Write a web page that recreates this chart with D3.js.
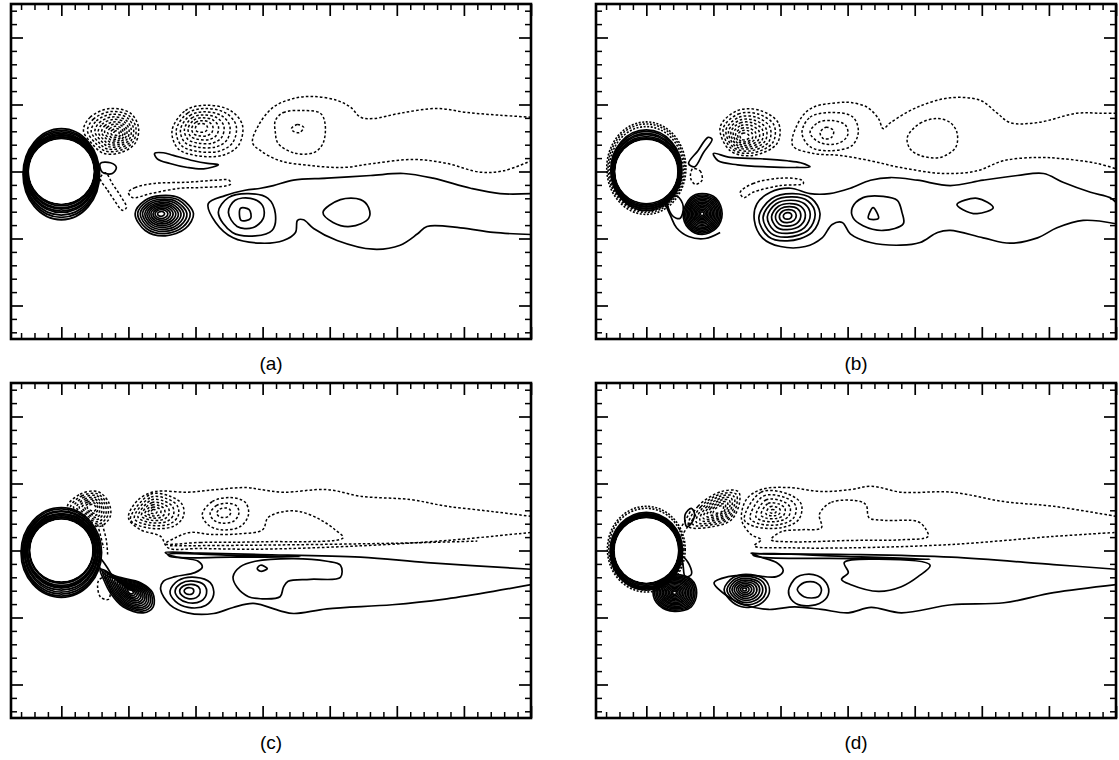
<!DOCTYPE html>
<html><head><meta charset="utf-8">
<script src="https://cdn.jsdelivr.net/npm/d3@7"></script>
<style>body{margin:0;background:#fff}svg{display:block}</style>
</head><body>
<svg id="fig" width="1119" height="760"></svg>
<script>
// Wake vorticity contours behind a cylinder, four instants.
// Coordinates in cylinder diameters, origin at the cylinder centre.
const xDomain = [-0.75, 7];
const yDomain = [-2.5, 2.5];
const panelLabels = ["(a)", "(b)", "(c)", "(d)"];
const xMajor = [0, 1, 2, 3, 4, 5, 6, 7];
const yMajor = [-2, -1, 0, 1, 2];

// ---------- (a) ----------
const aVortexDotted = [
  {outer: [[0.33,0.61],[0.43,0.81],[0.73,0.94],[1.03,0.87],[1.15,0.66],[1.10,0.42],[0.88,0.28],[0.63,0.27],[0.48,0.39]], core: [0.83,0.57], levels: [1,0.88,0.77,0.66,0.56,0.46,0.37,0.28,0.19,0.1]},
  {outer: [[1.65,0.61],[1.85,0.91],[2.15,0.99],[2.52,0.91],[2.70,0.69],[2.64,0.39],[2.40,0.24],[2.00,0.24],[1.74,0.34]], core: [2.07,0.66], levels: [1,0.85,0.7,0.56,0.43,0.3,0.17]}
];
const aVortexSolid = [
  {outer: [[1.10,-0.63],[1.25,-0.43],[1.48,-0.36],[1.77,-0.40],[1.97,-0.63],[1.85,-0.85],[1.55,-0.96],[1.25,-0.88]], core: [1.48,-0.63], levels: [1,0.9,0.8,0.71,0.62,0.54,0.46,0.38,0.3,0.22,0.12]}
];
const aDottedLoops = [
  [[3.19,0.76],[3.31,0.88],[3.61,0.91],[3.86,0.87],[3.93,0.72],[3.90,0.42],[3.76,0.28],[3.46,0.28],[3.23,0.42],[3.19,0.58]],
  [[3.43,0.64],[3.52,0.70],[3.61,0.66],[3.55,0.58],[3.46,0.60]],
  [[1.00,-0.31],[1.10,-0.24],[1.37,-0.18],[1.88,-0.16],[2.30,-0.13],[2.50,-0.13],[2.52,-0.19],[2.07,-0.24],[1.77,-0.25],[1.33,-0.33],[1.06,-0.39]],
  [[0.58,-0.10],[0.69,-0.28],[0.79,-0.43],[0.91,-0.58],[0.97,-0.54],[0.88,-0.36],[0.76,-0.18],[0.66,-0.02]]
];
const aDottedOpen = [
  [[7.0,0.81],[6.54,0.84],[6.05,0.88],[5.60,0.94],[5.05,0.87],[4.65,0.79],[4.46,0.81],[4.31,0.96],[4.11,1.06],[3.76,1.12],[3.46,1.09],[3.16,0.96],[2.94,0.69],[2.85,0.43],[2.97,0.31],[3.26,0.16],[3.71,0.09],[4.20,0.06],[4.65,0.12],[5.25,0.18],[5.75,0.12],[6.24,-0.01],[6.59,0.01],[7.0,0.16]]
];
const aSolidLoops = [
  [[0.58,0.12],[0.73,0.13],[0.82,0.06],[0.76,-0.03],[0.61,-0.01]],
  [[1.39,0.27],[1.52,0.28],[1.67,0.24],[1.97,0.16],[2.18,0.12],[2.34,0.10],[2.12,0.04],[1.88,0.06],[1.62,0.12],[1.43,0.19]],
  [[2.67,-0.55],[2.80,-0.57],[2.82,-0.70],[2.68,-0.73]],
  [[2.49,-0.61],[2.59,-0.43],[2.82,-0.40],[3.00,-0.51],[3.01,-0.70],[2.85,-0.84],[2.62,-0.82]],
  [[2.34,-0.61],[2.49,-0.39],[2.79,-0.33],[3.08,-0.40],[3.19,-0.63],[3.14,-0.88],[2.89,-0.96],[2.55,-0.91]],
  [[3.90,-0.61],[4.16,-0.42],[4.46,-0.42],[4.58,-0.54],[4.58,-0.70],[4.31,-0.82],[4.05,-0.76]]
];
const aSolidOpen = [
  [[7.0,-0.33],[6.54,-0.33],[6.10,-0.25],[5.54,-0.10],[5.10,-0.03],[4.61,-0.06],[3.96,-0.10],[3.46,-0.13],[3.16,-0.21],[2.97,-0.25],[2.74,-0.28],[2.44,-0.36],[2.19,-0.48],[2.30,-0.76],[2.56,-0.99],[2.97,-1.07],[3.31,-1.03],[3.49,-0.91],[3.52,-0.73],[3.61,-0.72],[3.76,-0.85],[4.11,-1.03],[4.65,-1.16],[5.05,-1.10],[5.31,-0.93],[5.45,-0.82],[5.95,-0.84],[6.44,-0.91],[7.0,-0.94]]
];
const aCylSolid = {rx: [0.49,0.5,0.51,0.52,0.53,0.54,0.55,0.56,0.57], ry: [0.49,0.51,0.53,0.55,0.57,0.59,0.62,0.65,0.68], dy: [0,0,-0.01,-0.01,-0.02,-0.02,-0.03,-0.035,-0.04]};
const aCylDotted = {rx: [], ry: [], dy: []};

// ---------- (b) ----------
const bVortexDotted = [
  {outer: [[1.10,0.66],[1.36,0.91],[1.70,0.91],[1.97,0.72],[1.95,0.42],[1.59,0.24],[1.25,0.31]], core: [1.45,0.51], levels: [1,0.87,0.75,0.64,0.54,0.44,0.34,0.25,0.15]}
];
const bVortexSolid = [
  {outer: [[0.55,-0.63],[0.66,-0.39],[0.83,-0.33],[1.04,-0.40],[1.13,-0.63],[1.04,-0.85],[0.83,-0.94],[0.63,-0.85]], core: [0.83,-0.63], levels: [1,0.93,0.86,0.79,0.72,0.65,0.58,0.51,0.44,0.37,0.3,0.23,0.16,0.09]},
  {outer: [[1.65,-0.69],[1.85,-0.39],[2.19,-0.31],[2.49,-0.39],[2.62,-0.63],[2.49,-0.93],[2.10,-1.06],[1.80,-0.99]], core: [2.10,-0.66], levels: [0.94,0.8,0.66,0.52,0.39,0.26,0.13]}
];
const bDottedLoops = [
  [[0.69,0.04],[0.80,0.01],[0.83,-0.13],[0.73,-0.19],[0.66,-0.10]],
  [[1.40,-0.31],[1.59,-0.18],[2.00,-0.10],[2.32,-0.13],[2.34,-0.18],[2.00,-0.21],[1.59,-0.31],[1.45,-0.39]],
  [[2.32,0.58],[2.44,0.81],[2.74,0.88],[3.07,0.82],[3.16,0.61],[3.07,0.39],[2.74,0.31],[2.44,0.37]],
  [[2.44,0.58],[2.56,0.73],[2.77,0.76],[2.97,0.69],[3.00,0.54],[2.86,0.42],[2.59,0.43]],
  [[2.59,0.58],[2.68,0.66],[2.79,0.61],[2.76,0.51],[2.64,0.49]],
  [[3.89,0.51],[4.08,0.72],[4.34,0.79],[4.53,0.73],[4.63,0.58],[4.61,0.36],[4.38,0.21],[4.08,0.24],[3.93,0.34]]
];
const bDottedOpen = [
  [[7.0,0.87],[6.77,0.87],[6.42,0.87],[5.83,0.73],[5.42,0.73],[5.23,0.87],[4.98,1.06],[4.53,1.10],[4.04,0.96],[3.64,0.73],[3.53,0.64],[3.46,0.79],[3.29,0.96],[3.04,1.03],[2.89,1.03],[2.49,0.96],[2.30,0.79],[2.18,0.39],[2.49,0.27],[2.89,0.24],[3.34,0.16],[3.79,0.06],[4.43,-0.03],[4.93,0.01],[5.32,0.16],[5.83,0.21],[6.21,0.19],[6.72,0.12],[7.0,0.04]]
];
const bSolidLoops = [
  [[0.63,0.12],[0.77,0.31],[0.92,0.51],[0.98,0.48],[0.85,0.28],[0.72,0.07]],
  [[1.00,0.27],[1.25,0.21],[1.70,0.19],[2.10,0.16],[2.30,0.13],[2.44,0.07],[2.22,0.06],[1.80,0.07],[1.36,0.10],[1.07,0.16]],
  [[3.07,-0.54],[3.23,-0.39],[3.53,-0.37],[3.74,-0.43],[3.81,-0.61],[3.83,-0.78],[3.53,-0.88],[3.23,-0.81],[3.08,-0.69]],
  [[3.38,-0.54],[3.31,-0.70],[3.46,-0.70]],
  [[4.63,-0.49],[4.93,-0.40],[5.17,-0.54],[4.93,-0.63],[4.72,-0.57]],
  [[0.31,-0.40],[0.46,-0.37],[0.55,-0.52],[0.50,-0.70],[0.39,-0.66]]
];
const bSolidOpen = [
  [[0.28,-0.48],[0.36,-0.66],[0.45,-0.84],[0.63,-0.97],[0.88,-1.00],[1.10,-0.91]],
  [[7.0,-0.46],[6.91,-0.39],[6.62,-0.31],[6.21,-0.16],[5.92,-0.03],[5.53,-0.06],[5.02,-0.13],[4.53,-0.21],[4.04,-0.13],[3.64,-0.09],[3.34,-0.13],[3.04,-0.25],[2.73,-0.33],[2.44,-0.33],[2.15,-0.25],[1.85,-0.31],[1.65,-0.48],[1.61,-0.73],[1.73,-0.99],[2.00,-1.12],[2.37,-1.12],[2.62,-0.99],[2.77,-0.79],[2.92,-0.76],[3.04,-0.93],[3.34,-1.06],[3.79,-1.10],[4.08,-1.06],[4.34,-0.91],[4.53,-0.88],[5.02,-0.99],[5.42,-1.07],[5.83,-0.99],[6.12,-0.84],[6.51,-0.73],[7.0,-0.78]]
];
const bCylSolid = {rx: [0.47,0.48,0.49,0.5,0.51,0.52,0.53], ry: [0.48,0.5,0.52,0.54,0.56,0.58,0.6], dy: [0,0,0,0.01,0.01,0.02,0.02]};
const bCylDotted = {rx: [0.55,0.57,0.59], ry: [0.63,0.66,0.69], dy: [0.04,0.05,0.05]};

// ---------- (c) ----------
const cVortexDotted = [
  {outer: [[0.09,0.66],[0.28,0.84],[0.54,0.88],[0.70,0.73],[0.73,0.51],[0.58,0.36],[0.36,0.43],[0.16,0.54]], core: [0.46,0.64], levels: [1,0.87,0.75,0.63,0.52,0.41,0.3,0.2]},
  {outer: [[1.03,0.46],[1.33,0.84],[1.62,0.81],[1.80,0.69],[1.82,0.51],[1.67,0.36],[1.28,0.34]], core: [1.37,0.58], levels: [1,0.83,0.67,0.52,0.38,0.25,0.12]},
  {outer: [[2.10,0.54],[2.25,0.73],[2.52,0.79],[2.74,0.72],[2.79,0.54],[2.67,0.36],[2.37,0.31],[2.18,0.39]], core: [2.41,0.57], levels: [1,0.62,0.3]}
];
const cVortexSolid = [
  {outer: [[0.58,-0.28],[0.83,-0.39],[1.18,-0.48],[1.36,-0.63],[1.37,-0.84],[1.22,-0.93],[0.92,-0.84],[0.73,-0.63],[0.63,-0.43]], core: [1.03,-0.61], levels: [1,0.92,0.84,0.76,0.68,0.6,0.52,0.44,0.36,0.28,0.2,0.12]},
  {outer: [[1.62,-0.61],[1.74,-0.45],[2.00,-0.40],[2.22,-0.48],[2.27,-0.66],[2.15,-0.82],[1.89,-0.85],[1.70,-0.76]], core: [1.89,-0.60], levels: [1,0.72,0.47,0.22]}
];
const cDottedLoops = [
  [[0.55,-0.46],[0.64,-0.40],[0.73,-0.58],[0.70,-0.73],[0.58,-0.69]],
  [[1.55,0.10],[2.07,0.12],[2.97,0.13],[4.20,0.19],[4.08,0.31],[3.86,0.46],[3.56,0.58],[3.31,0.58],[3.08,0.49],[3.00,0.31],[2.67,0.25],[2.22,0.24],[1.92,0.27],[1.70,0.19]]
];
const cDottedOpen = [
  [[7.0,0.51],[6.44,0.58],[5.75,0.66],[5.20,0.76],[4.46,0.81],[3.96,0.91],[3.31,0.87],[2.97,0.91],[2.77,0.94],[2.32,0.91],[1.88,0.87],[1.40,0.88],[1.15,0.76],[1.00,0.49],[1.18,0.31],[1.48,0.21],[1.59,0.04],[2.07,0.03],[2.97,0.02],[4.46,0.07],[5.75,0.15],[7.0,0.27]],
  [[1.62,0.07],[2.97,0.08],[5.05,0.11],[6.2,0.14]],
  [[0.54,0.39],[0.58,0.24],[0.63,0.04]],
  [[0.61,0.39],[0.67,0.16],[0.69,-0.06]]
];
const cSolidLoops = [
  [[0.51,-0.13],[0.66,-0.36],[0.76,-0.40],[0.70,-0.28],[0.55,-0.09]],
  [[1.59,-0.06],[2.52,-0.07],[3.56,-0.09],[2.52,-0.10],[1.62,-0.09]],
  [[2.56,-0.39],[2.67,-0.24],[2.89,-0.16],[3.46,-0.12],[3.96,-0.16],[4.16,-0.22],[4.16,-0.40],[3.71,-0.43],[3.38,-0.46],[3.31,-0.55],[3.26,-0.69],[2.97,-0.72],[2.79,-0.69],[2.62,-0.55]],
  [[2.97,-0.22],[3.07,-0.27],[2.97,-0.31],[2.92,-0.27]]
];
const cSolidOpen = [
  [[7.0,-0.28],[5.45,-0.18],[4.46,-0.10],[2.97,-0.06],[2.07,-0.04],[1.55,-0.03],[1.62,-0.07],[1.85,-0.12],[2.04,-0.16],[2.10,-0.25],[1.99,-0.33],[1.70,-0.39],[1.52,-0.46],[1.48,-0.58],[1.62,-0.81],[1.88,-0.93],[2.27,-0.94],[2.56,-0.85],[2.86,-0.79],[3.26,-0.90],[3.46,-0.94],[3.96,-0.87],[4.93,-0.81],[5.69,-0.73],[6.44,-0.61],[7.0,-0.51]]
];
const cCylSolid = {rx: [0.47,0.48,0.5,0.51,0.52,0.54,0.55,0.57,0.58,0.6], ry: [0.47,0.49,0.51,0.53,0.55,0.57,0.6,0.62,0.65,0.67], dy: [0,0,-0.01,-0.01,-0.01,-0.02,-0.02,-0.03,-0.03,-0.03]};
const cCylDotted = {rx: [], ry: [], dy: []};

// ---------- (d) ----------
const dVortexDotted = [
  {outer: [[0.63,0.36],[0.77,0.66],[1.12,0.88],[1.37,0.88],[1.39,0.72],[1.27,0.46],[1.01,0.36]], core: [1.09,0.61], levels: [1,0.87,0.75,0.63,0.52,0.41,0.3,0.2]},
  {outer: [[1.46,0.46],[1.71,0.87],[2.12,0.84],[2.31,0.69],[2.27,0.46],[2.01,0.34],[1.61,0.36]], core: [1.89,0.58], levels: [1,0.8,0.6,0.42,0.25,0.1]}
];
const dVortexSolid = [
  {outer: [[0.10,-0.63],[0.19,-0.43],[0.42,-0.36],[0.67,-0.43],[0.75,-0.63],[0.67,-0.84],[0.42,-0.91],[0.19,-0.82]], core: [0.42,-0.63], levels: [1,0.93,0.86,0.79,0.72,0.65,0.58,0.51,0.44,0.37,0.3,0.23,0.16,0.09]},
  {outer: [[1.16,-0.58],[1.30,-0.40],[1.56,-0.36],[1.79,-0.46],[1.83,-0.64],[1.68,-0.81],[1.42,-0.84],[1.24,-0.73]], core: [1.46,-0.58], levels: [1,0.86,0.73,0.61,0.5,0.39,0.29,0.19,0.09]}
];
const dDottedLoops = [
  [[2.58,0.54],[2.76,0.72],[3.20,0.73],[3.28,0.67],[3.32,0.49],[3.55,0.45],[4.05,0.43],[4.17,0.31],[4.20,0.21],[3.80,0.16],[3.05,0.15],[2.16,0.13],[1.86,0.16],[2.01,0.28],[2.31,0.31],[2.61,0.34]]
];
const dDottedOpen = [
  [[7.0,0.51],[6.07,0.66],[5.33,0.73],[4.55,0.87],[3.80,0.87],[3.35,0.96],[3.05,0.91],[2.61,0.88],[2.12,0.94],[1.71,0.91],[1.49,0.76],[1.42,0.46],[1.56,0.24],[1.71,0.16],[1.61,0.07],[2.16,0.04],[3.05,0.04],[4.55,0.09],[6.07,0.21],[7.0,0.27]],
  [[0.45,0.25],[0.57,0.43],[0.67,0.61]],
  [[0.52,0.21],[0.64,0.39],[0.75,0.55]]
];
const dSolidLoops = [
  [[0.54,-0.09],[0.64,-0.21],[0.67,-0.36],[0.58,-0.39],[0.55,-0.24]],
  [[0.60,0.36],[0.58,0.54],[0.67,0.63],[0.72,0.54],[0.66,0.39]],
  [[2.12,-0.60],[2.24,-0.40],[2.49,-0.36],[2.68,-0.48],[2.71,-0.66],[2.58,-0.79],[2.31,-0.82],[2.16,-0.73]],
  [[2.25,-0.58],[2.35,-0.48],[2.53,-0.48],[2.61,-0.58],[2.56,-0.69],[2.35,-0.69]],
  [[2.95,-0.18],[3.46,-0.13],[4.23,-0.22],[4.05,-0.39],[3.80,-0.54],[3.46,-0.61],[3.05,-0.51],[2.91,-0.43],[3.01,-0.33]],
  [[1.59,-0.06],[3.05,-0.09],[4.23,-0.13],[3.05,-0.12],[1.64,-0.09]]
];
const dSolidOpen = [
  [[7.0,-0.28],[6.07,-0.21],[4.55,-0.10],[3.05,-0.06],[1.71,-0.05],[1.56,-0.04],[1.71,-0.10],[1.94,-0.18],[2.04,-0.30],[1.94,-0.39],[1.56,-0.37],[1.22,-0.39],[1.01,-0.48],[1.22,-0.69],[1.46,-0.81],[1.82,-0.88],[2.21,-0.84],[2.61,-0.88],[3.01,-0.93],[3.35,-0.85],[3.80,-0.93],[4.55,-0.81],[5.33,-0.78],[6.07,-0.63],[7.0,-0.51]]
];
const dCylSolid = {rx: [0.48,0.49,0.5,0.51,0.52,0.53,0.54], ry: [0.49,0.5,0.52,0.53,0.55,0.56,0.58], dy: [0,0,0,-0.01,-0.01,-0.01,-0.01]};
const dCylDotted = {rx: [0.56,0.58], ry: [0.61,0.64], dy: [0.02,0.02]};

// ---------- drawing ----------
const panelW = 520, panelH = 335;
const panelPos = [[11, 4], [596, 4], [11, 383], [596, 383]];
const panels = [
  {vd: aVortexDotted, vs: aVortexSolid, dl: aDottedLoops, dopen: aDottedOpen, sl: aSolidLoops, sopen: aSolidOpen, cs: aCylSolid, cd: aCylDotted},
  {vd: bVortexDotted, vs: bVortexSolid, dl: bDottedLoops, dopen: bDottedOpen, sl: bSolidLoops, sopen: bSolidOpen, cs: bCylSolid, cd: bCylDotted},
  {vd: cVortexDotted, vs: cVortexSolid, dl: cDottedLoops, dopen: cDottedOpen, sl: cSolidLoops, sopen: cSolidOpen, cs: cCylSolid, cd: cCylDotted},
  {vd: dVortexDotted, vs: dVortexSolid, dl: dDottedLoops, dopen: dDottedOpen, sl: dSolidLoops, sopen: dSolidOpen, cs: dCylSolid, cd: dCylDotted}
];

const svg = d3.select("#fig");
const x = d3.scaleLinear().domain(xDomain).range([0, panelW]);
const y = d3.scaleLinear().domain(yDomain).range([panelH, 0]);
const closedLine = d3.line().x(d => x(d[0])).y(d => y(d[1])).curve(d3.curveCatmullRomClosed.alpha(0.5));
const openLine = d3.line().x(d => x(d[0])).y(d => y(d[1])).curve(d3.curveCatmullRom.alpha(0.5));
const DASH = "2.6,2.1";
const minorX = d3.range(-3, 35).filter(k => k % 5 !== 0).map(k => k / 5);
const minorY = d3.range(-12, 13).filter(k => k % 5 !== 0).map(k => k / 5);

// nested contour levels of a vortex, shrinking its outer contour towards the core
function ringsOf(v) {
  return v.levels.map(s => v.outer.map(p => [v.core[0] + (p[0] - v.core[0]) * s, v.core[1] + (p[1] - v.core[1]) * s]));
}

panels.forEach((P, i) => {
  const [px, py] = panelPos[i];
  const g = svg.append("g").attr("transform", `translate(${px},${py})`);
  const clipId = "clip" + i;
  g.append("clipPath").attr("id", clipId).append("rect").attr("width", panelW).attr("height", panelH);
  const c = g.append("g").attr("clip-path", `url(#${clipId})`).attr("fill", "none").attr("stroke", "#000");

  const dotted = [].concat(...P.vd.map(ringsOf), P.dl);
  const solid = [].concat(...P.vs.map(ringsOf), P.sl);

  c.selectAll("path.dl").data(dotted).join("path").attr("class", "dl")
    .attr("d", closedLine).attr("stroke-width", 1.5).attr("stroke-dasharray", DASH);
  c.selectAll("path.do").data(P.dopen).join("path").attr("class", "do")
    .attr("d", openLine).attr("stroke-width", 1.5).attr("stroke-dasharray", DASH);
  c.selectAll("path.sl").data(solid).join("path").attr("class", "sl")
    .attr("d", closedLine).attr("stroke-width", 1.7);
  c.selectAll("path.so").data(P.sopen).join("path").attr("class", "so")
    .attr("d", openLine).attr("stroke-width", 1.7);

  // cylinder: body with the packed boundary-layer contours round it
  const kx = x(1) - x(0), ky = y(0) - y(1);
  const cyl = c.append("g");
  cyl.selectAll("ellipse.cd").data(P.cd.rx.map((r, j) => [r, P.cd.ry[j], P.cd.dy[j]])).join("ellipse").attr("class", "cd")
    .attr("cx", x(0)).attr("cy", d => y(d[2])).attr("rx", d => d[0] * kx).attr("ry", d => d[1] * ky)
    .attr("stroke-width", 1.6).attr("stroke-dasharray", "2,1.6");
  cyl.selectAll("ellipse.cs").data(P.cs.rx.map((r, j) => [r, P.cs.ry[j], P.cs.dy[j]])).join("ellipse").attr("class", "cs")
    .attr("cx", x(0)).attr("cy", d => y(d[2])).attr("rx", d => d[0] * kx).attr("ry", d => d[1] * ky)
    .attr("stroke-width", 1.8);
  cyl.append("ellipse").attr("cx", x(0)).attr("cy", y(0))
    .attr("rx", (P.cs.rx[0] - 0.012) * kx).attr("ry", (P.cs.ry[0] - 0.012) * ky)
    .attr("fill", "#fff").attr("stroke", "none");

  // inward ticks on all four sides: long at whole diameters, short every 0.2
  const sides = [
    [() => d3.axisTop(x), 0, 0, xMajor, minorX],
    [() => d3.axisBottom(x), 0, panelH, xMajor, minorX],
    [() => d3.axisLeft(y), 0, 0, yMajor, minorY],
    [() => d3.axisRight(y), panelW, 0, yMajor, minorY]
  ];
  sides.forEach(([make, tx, ty, maj, min]) => {
    [[maj, -12, 1.7], [min, -6, 1.5]].forEach(([vals, len, w]) => {
      g.append("g").attr("transform", `translate(${tx},${ty})`)
        .call(make().tickValues(vals).tickSizeInner(len).tickSizeOuter(0).tickFormat(""))
        .call(s => { s.select(".domain").remove(); s.selectAll("line").attr("stroke-width", w); });
    });
  });
  g.append("rect").attr("width", panelW).attr("height", panelH)
    .attr("fill", "none").attr("stroke", "#000").attr("stroke-width", 2.6);

  svg.append("text").attr("x", px + panelW / 2).attr("y", py + panelH + 31)
    .attr("text-anchor", "middle").attr("font-family", "'Liberation Sans', Arial, sans-serif")
    .attr("font-size", 19).attr("fill", "#000").text(panelLabels[i]);
});
</script>
</body></html>
